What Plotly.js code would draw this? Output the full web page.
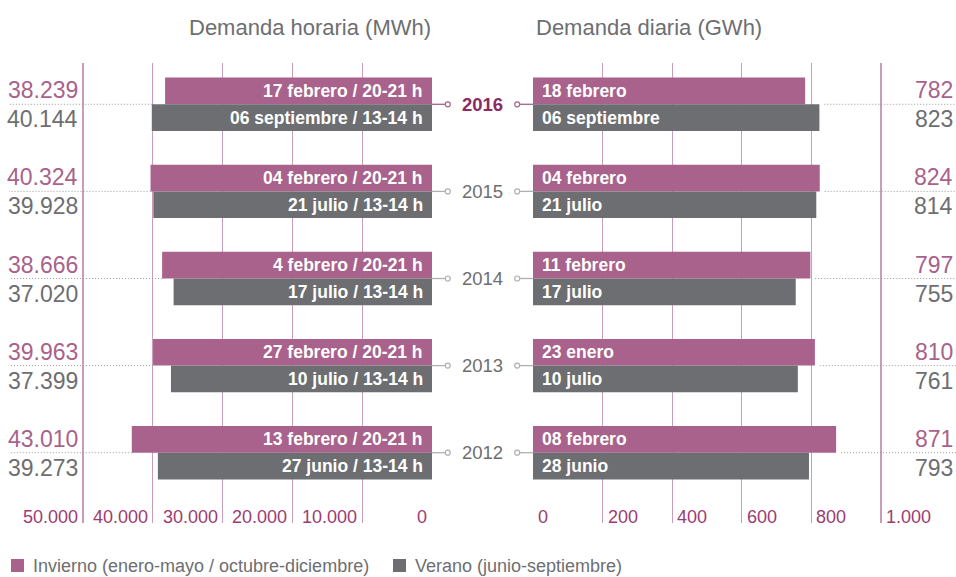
<!DOCTYPE html>
<html>
<head>
<meta charset="utf-8">
<script src="https://cdn.plot.ly/plotly-3.0.1.min.js"></script>
<style>
  html, body { margin: 0; padding: 0; background: #ffffff; }
  #chart { width: 956px; height: 577px; }
</style>
</head>
<body>
<div id="chart"></div>
<script>
// ---------- DATA ----------
var years = ['2016', '2015', '2014', '2013', '2012'];
var highlightYear = '2016';

var hourlyWinter = [38239, 40324, 38666, 39963, 43010];
var hourlySummer = [40144, 39928, 37020, 37399, 39273];
var dailyWinter = [782, 824, 797, 810, 871];
var dailySummer = [823, 814, 755, 761, 793];

var hourlyWinterLabels = ['17 febrero / 20-21 h', '04 febrero / 20-21 h', '4 febrero / 20-21 h', '27 febrero / 20-21 h', '13 febrero / 20-21 h'];
var hourlySummerLabels = ['06 septiembre / 13-14 h', '21 julio / 13-14 h', '17 julio / 13-14 h', '10 julio / 13-14 h', '27 junio / 13-14 h'];
var dailyWinterLabels = ['18 febrero', '04 febrero', '11 febrero', '23 enero', '08 febrero'];
var dailySummerLabels = ['06 septiembre', '21 julio', '17 julio', '10 julio', '28 junio'];

var hourlyTicks = [0, 10000, 20000, 30000, 40000, 50000];
var dailyTicks = [0, 200, 400, 600, 800, 1000];

var titleHourly = 'Demanda horaria (MWh)';
var titleDaily = 'Demanda diaria (GWh)';
var legendWinter = 'Invierno (enero-mayo / octubre-diciembre)';
var legendSummer = 'Verano (junio-septiembre)';

// ---------- STYLE ----------
var PINK = '#a8628b';
var GRAY = '#6d6e71';
var GRID = '#c99cb8';
var TICKC = '#9c3c72';
var HL = '#8c2a62';
var DOT = '#9a9a9a';
var CONN = '#b0b0b0';
var SANS = '"Liberation Sans", Arial, sans-serif';

function fmt(n) {
  var s = String(Math.round(n));
  return s.replace(/\B(?=(\d{3})+(?!\d))/g, '.');
}

// ---------- TRACES ----------
function barTrace(x, color, xa, name) {
  return {
    type: 'bar', orientation: 'h', x: x, y: years,
    xaxis: xa, yaxis: 'y', name: name,
    marker: { color: color, line: { width: 0 } },
    hoverinfo: 'skip'
  };
}
var data = [
  barTrace(hourlyWinter, PINK, 'x', 'Invierno'),
  barTrace(hourlySummer, GRAY, 'x', 'Verano'),
  barTrace(dailyWinter, PINK, 'x2', 'Invierno'),
  barTrace(dailySummer, GRAY, 'x2', 'Verano')
];

// ---------- ANNOTATIONS ----------
var ann = [];
var shapes = [];
var BARSHIFT = 13.4;
var barFont = { family: SANS, size: 17.5, color: '#ffffff', weight: 'bold' };

function note(o) {
  o.showarrow = false;
  if (!o.yanchor) o.yanchor = 'middle';
  return o;
}

years.forEach(function (yr, i) {
  // labels inside bars
  ann.push(note({ xref: 'x', yref: 'y', x: 0, y: i, yshift: BARSHIFT, xanchor: 'right', xshift: -7,
    text: hourlyWinterLabels[i], font: barFont }));
  ann.push(note({ xref: 'x', yref: 'y', x: 0, y: i, yshift: -BARSHIFT, xanchor: 'right', xshift: -7,
    text: hourlySummerLabels[i], font: barFont }));
  ann.push(note({ xref: 'x2', yref: 'y', x: 0, y: i, yshift: BARSHIFT, xanchor: 'left', xshift: 7,
    text: dailyWinterLabels[i], font: barFont }));
  ann.push(note({ xref: 'x2', yref: 'y', x: 0, y: i, yshift: -BARSHIFT, xanchor: 'left', xshift: 7,
    text: dailySummerLabels[i], font: barFont }));

  // side values
  ann.push(note({ xref: 'paper', yref: 'y', x: 80 / 956, y: i, yshift: 14, xanchor: 'right',
    text: fmt(hourlyWinter[i]), font: { family: SANS, size: 23, color: PINK } }));
  ann.push(note({ xref: 'paper', yref: 'y', x: 80 / 956, y: i, yshift: -15, xanchor: 'right',
    text: fmt(hourlySummer[i]), font: { family: SANS, size: 23, color: GRAY } }));
  ann.push(note({ xref: 'paper', yref: 'y', x: 1, xshift: -1, y: i, yshift: 14, xanchor: 'right',
    text: fmt(dailyWinter[i]), font: { family: SANS, size: 23, color: PINK } }));
  ann.push(note({ xref: 'paper', yref: 'y', x: 1, xshift: -1, y: i, yshift: -15, xanchor: 'right',
    text: fmt(dailySummer[i]), font: { family: SANS, size: 23, color: GRAY } }));

  // year label
  var isHL = yr === highlightYear;
  ann.push(note({ xref: 'paper', yref: 'y', x: (432 + 533) / 2 / 956, y: i, xanchor: 'center',
    text: yr, font: { family: SANS, size: 18.5, color: isHL ? HL : GRAY, weight: isHL ? 'bold' : 'normal' } }));

  var cc = isHL ? PINK : CONN;
  // connectors left
  shapes.push({ type: 'line', xref: 'x domain', yref: 'y', xsizemode: 'pixel', xanchor: 1,
    x0: 0, x1: 13.5, y0: i, y1: i, line: { color: cc, width: 1.3 } });
  shapes.push({ type: 'circle', xref: 'x domain', yref: 'y', xsizemode: 'pixel', ysizemode: 'pixel',
    xanchor: 1, yanchor: i, x0: 13.3, x1: 18.3, y0: -2.5, y1: 2.5,
    fillcolor: '#ffffff', line: { color: cc, width: 1.2 } });
  // connectors right
  shapes.push({ type: 'line', xref: 'x2 domain', yref: 'y', xsizemode: 'pixel', xanchor: 0,
    x0: -13.5, x1: 0, y0: i, y1: i, line: { color: cc, width: 1.3 } });
  shapes.push({ type: 'circle', xref: 'x2 domain', yref: 'y', xsizemode: 'pixel', ysizemode: 'pixel',
    xanchor: 0, yanchor: i, x0: -18.3, x1: -13.3, y0: -2.5, y1: 2.5,
    fillcolor: '#ffffff', line: { color: cc, width: 1.2 } });

  // dotted leader lines
  shapes.push({ type: 'line', xref: 'x', yref: 'y',
    x0: Math.max(hourlyWinter[i], hourlySummer[i]), x1: 60600, y0: i, y1: i,
    line: { color: DOT, width: 1, dash: '1px,2px' } });
  shapes.push({ type: 'line', xref: 'x2', yref: 'y',
    x0: Math.max(dailyWinter[i], dailySummer[i]) + 14, x1: 1216, y0: i, y1: i,
    line: { color: DOT, width: 1, dash: '1px,2px' } });
});

// tick labels
var tickY = (577 - 517) / 577;
hourlyTicks.forEach(function (t) {
  ann.push(note({ xref: 'x', yref: 'paper', x: t, y: tickY, xanchor: 'right', xshift: -3,
    text: fmt(t), font: { family: SANS, size: 18, color: TICKC } }));
});
dailyTicks.forEach(function (t) {
  ann.push(note({ xref: 'x2', yref: 'paper', x: t, y: tickY, xanchor: 'left', xshift: 3,
    text: fmt(t), font: { family: SANS, size: 18, color: TICKC } }));
});

// titles
var titleY = (577 - 27) / 577;
ann.push(note({ xref: 'x', yref: 'paper', x: 0, y: titleY, xanchor: 'right', xshift: 1,
  text: titleHourly, font: { family: SANS, size: 22, color: GRAY } }));
ann.push(note({ xref: 'x2', yref: 'paper', x: 0, y: titleY, xanchor: 'left', xshift: 1,
  text: titleDaily, font: { family: SANS, size: 22, color: GRAY } }));

// legend (manual)
var legY = (577 - 566) / 577;
shapes.push({ type: 'rect', xref: 'paper', yref: 'paper', x0: 11 / 956, x1: 24 / 956,
  y0: (577 - 572) / 577, y1: (577 - 559) / 577, fillcolor: PINK, line: { width: 0 } });
ann.push(note({ xref: 'paper', yref: 'paper', x: 31 / 956, y: legY, xanchor: 'left',
  text: legendWinter, font: { family: SANS, size: 18, color: GRAY } }));
shapes.push({ type: 'rect', xref: 'paper', yref: 'paper', x0: 393 / 956, x1: 406 / 956,
  y0: (577 - 572) / 577, y1: (577 - 559) / 577, fillcolor: GRAY, line: { width: 0 } });
ann.push(note({ xref: 'paper', yref: 'paper', x: 413 / 956, y: legY, xanchor: 'left',
  text: legendSummer, font: { family: SANS, size: 18, color: GRAY } }));

// ---------- LAYOUT ----------
var layout = {
  width: 956, height: 577,
  margin: { l: 0, r: 0, t: 0, b: 0, pad: 0 },
  paper_bgcolor: '#ffffff', plot_bgcolor: 'rgba(0,0,0,0)',
  showlegend: false,
  barmode: 'group', bargap: 0.387, bargroupgap: 0,
  xaxis: {
    domain: [0, 432 / 956], range: [61892, 0], anchor: 'y',
    tickmode: 'array', tickvals: hourlyTicks, showticklabels: false, ticks: '',
    showgrid: true, gridcolor: GRID, gridwidth: 1.2, zeroline: false, showline: false, fixedrange: true
  },
  xaxis2: {
    domain: [533 / 956, 1], range: [0, 1215.5], anchor: 'y',
    tickmode: 'array', tickvals: dailyTicks, showticklabels: false, ticks: '',
    showgrid: true, gridcolor: GRID, gridwidth: 1.2, zeroline: false, showline: false, fixedrange: true
  },
  yaxis: {
    domain: [(577 - 523) / 577, (577 - 63) / 577],
    type: 'category', categoryorder: 'array', categoryarray: years,
    range: [4.807, -0.474],
    showticklabels: false, ticks: '', showgrid: false, zeroline: false, showline: false, fixedrange: true
  },
  annotations: ann,
  shapes: shapes
};

Plotly.newPlot('chart', data, layout, { displayModeBar: false, staticPlot: true });
</script>
</body>
</html>
